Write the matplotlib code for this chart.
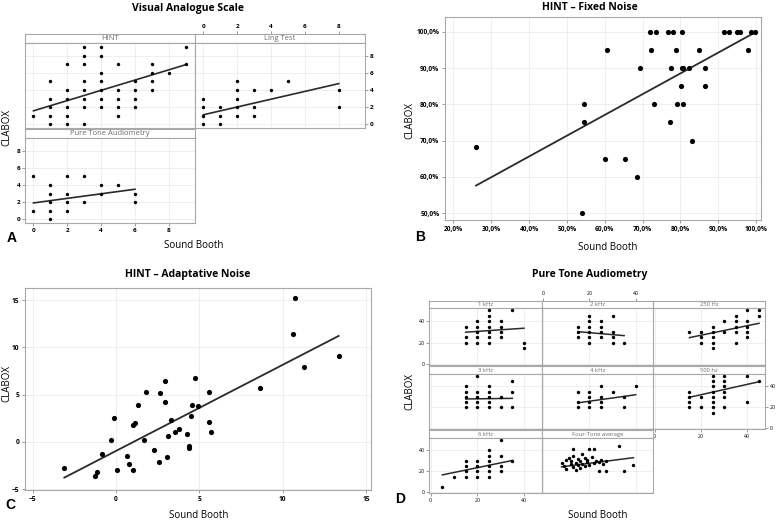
"""
plot.py
=======
Four panel comparison of CLABOX against the sound booth (A-D), drawn with
plain matplotlib axes placed in pixel coordinates.
"""
import numpy as np
import matplotlib
matplotlib.use("Agg")
import matplotlib.pyplot as plt
from matplotlib.ticker import FuncFormatter

W, H = 779, 520
plt.rcParams["font.family"] = ["Open Sans", "DejaVu Sans"]

FRAME = "#a8a8a8"
GRID = "#ececec"
STRIP_TXT = "#6e6e6e"
LINE = "#2a2a2a"

# ---- A: Visual Analogue Scale ------------------------------------------
A_HINT_X = [0, 1, 1, 1, 1, 1, 2, 2, 2, 2, 2, 2, 3, 3, 3, 3, 3, 3, 3, 3,
            4, 4, 4, 4, 4, 4, 4, 5, 5, 5, 5, 5, 6, 6, 6, 6, 7, 7, 7, 7, 8, 9, 9]
A_HINT_Y = [1, 5, 3, 2, 1, 0, 7, 4, 3, 2, 1, 0, 9, 8, 7, 5, 4, 3, 2, 0,
            9, 8, 6, 5, 4, 3, 2, 7, 4, 3, 2, 1, 5, 4, 3, 2, 7, 6, 5, 4, 6, 9, 7]
A_HINT_FIT = (1.56, 0.60)

A_LING_X = [0, 0, 0, 0, 1, 1, 1, 2, 2, 2, 2, 2, 3, 3, 3, 4, 5, 8, 8]
A_LING_Y = [3, 2, 1, 0, 2, 1, 0, 5, 4, 3, 2, 1, 4, 2, 1, 4, 5, 4, 2]
A_LING_FIT = (1.10, 0.456)

A_PTA_X = [0, 0, 1, 1, 1, 1, 1, 2, 2, 2, 2, 3, 3, 4, 4, 5, 6, 6]
A_PTA_Y = [5, 1, 4, 3, 2, 1, 0, 5, 3, 2, 1, 5, 2, 4, 3, 4, 3, 2]
A_PTA_FIT = (1.90, 0.267)

# ---- B: HINT fixed noise (percent) -------------------------------------
B_X = [26.0, 54.0, 54.6, 54.6, 60.7, 60.0, 65.4, 68.6, 69.4, 72.1, 72.3, 72.9,
       73.6, 76.7, 78.0, 80.3, 78.8, 77.5, 77.3, 79.1, 80.6, 80.1, 80.3, 80.7,
       82.4, 83.0, 84.8, 86.4, 86.6, 91.4, 92.8, 95.0, 95.8, 98.7, 99.8, 97.9]
B_Y = [68.3, 50, 80, 75, 95, 65, 65, 60, 90, 100, 95, 80,
       100, 100, 100, 100, 95, 90, 75, 80, 80, 85, 90, 90,
       90, 70, 95, 85, 90, 100, 100, 100, 100, 100, 100, 95]
B_FIT = (42.7, 0.573)

# ---- C: HINT adaptative noise ------------------------------------------
C_X = [-3.10, -1.26, -1.12, -0.84, -0.30, -0.14, 0.05, 0.67, 0.81, 1.03, 1.03,
       1.17, 1.33, 1.81, 1.71, 2.31, 2.61, 2.67, 2.97, 2.97, 3.07, 3.15, 3.33,
       3.57, 3.77, 4.27, 4.37, 4.37, 4.49, 4.57, 4.77, 4.95, 5.57, 5.59, 5.73,
       8.67, 10.60, 10.74, 11.26, 13.36]
C_Y = [-2.77, -3.59, -3.23, -1.29, 0.23, 2.49, -2.99, -1.50, -2.31, -3.02, 1.82,
       2.03, 3.90, 5.30, 0.23, -0.83, -2.17, 5.18, 6.41, 4.26, -1.57, 0.62, 2.31,
       1.08, 1.33, 0.87, -0.41, -0.69, 2.70, 3.87, 6.77, 3.76, 5.32, 2.10, 1.08,
       5.67, 11.40, 15.25, 7.93, 9.10]
C_FIT = (-0.96, 0.912)

# ---- D: Pure Tone Audiometry (dB) --------------------------------------
D_1K_X = [15, 15, 15, 20, 20, 20, 20, 20, 25, 25, 25, 25, 25, 25, 25, 30, 30, 30, 30, 35, 40, 40]
D_1K_Y = [35, 25, 20, 40, 35, 30, 25, 20, 50, 45, 40, 35, 30, 25, 20, 40, 35, 30, 25, 50, 20, 15]
D_1K_FIT = (27.6, 0.148)

D_2K_X = [15, 15, 15, 20, 20, 20, 20, 20, 20, 25, 25, 25, 25, 30, 30, 30, 30, 35]
D_2K_Y = [35, 30, 25, 45, 40, 35, 30, 25, 20, 40, 35, 30, 25, 45, 30, 25, 20, 20]
D_2K_FIT = (33.1, -0.185)

D_250_X = [15, 20, 20, 20, 25, 25, 25, 25, 25, 30, 30, 35, 35, 35, 35, 35, 40, 40, 40, 40, 40, 45, 45]
D_250_Y = [30, 30, 25, 20, 35, 30, 25, 20, 15, 40, 30, 45, 40, 35, 30, 20, 50, 40, 35, 30, 25, 50, 45]
D_250_FIT = (18.15, 0.443)

D_3K_X = [15, 15, 15, 15, 15, 20, 20, 20, 20, 20, 25, 25, 25, 25, 25, 30, 30, 35, 35, 35]
D_3K_Y = [40, 35, 30, 25, 20, 50, 35, 30, 25, 20, 40, 35, 30, 25, 20, 30, 20, 45, 35, 20]
D_3K_FIT = (27.45, 0.03)

D_4K_X = [15, 15, 15, 20, 20, 20, 20, 25, 25, 25, 25, 30, 35, 35, 40]
D_4K_Y = [35, 25, 20, 35, 30, 25, 20, 40, 30, 25, 20, 35, 30, 20, 40]
D_4K_FIT = (19.6, 0.308)

D_500_X = [15, 15, 15, 15, 20, 20, 25, 25, 25, 25, 25, 25, 25, 25, 30, 30, 30, 30, 30, 30, 40, 40, 45]
D_500_Y = [35, 30, 25, 20, 30, 20, 50, 45, 40, 35, 30, 25, 20, 15, 50, 45, 40, 35, 30, 20, 50, 25, 45]
D_500_FIT = (22.1, 0.493)

D_6K_X = [5, 10, 15, 15, 15, 15, 20, 20, 20, 20, 25, 25, 25, 25, 25, 25, 30, 30, 30, 30, 35]
D_6K_Y = [5, 15, 30, 25, 20, 15, 30, 25, 20, 15, 40, 35, 30, 25, 20, 15, 50, 35, 25, 20, 30]
D_6K_FIT = (14.3, 0.457)

D_4T_X = [8, 9, 10, 10, 11, 12, 12, 13, 13, 14, 14, 15, 15, 16, 16, 17, 17, 18,
          18, 19, 19, 20, 21, 22, 23, 24, 25, 26, 27, 13, 20, 22, 24, 33, 27, 35, 39]
D_4T_Y = [28, 25, 31, 22, 33, 27, 30, 24, 35, 21, 28, 32, 26, 23, 30, 36, 27, 25,
          33, 29, 31, 26, 34, 28, 30, 29, 31, 27, 30, 41, 41, 41, 20, 44, 20, 20, 26]
D_4T_FIT = (22.0, 0.28)


def add_ax(fig, x0, y0, x1, y1):
    """Axes from pixel box (top-left origin)."""
    return fig.add_axes([x0 / W, 1 - y1 / H, (x1 - x0) / W, (y1 - y0) / H])


def style_frame(ax, color=FRAME, lw=0.8):
    for sp in ax.spines.values():
        sp.set_color(color)
        sp.set_linewidth(lw)


def tick_style(ax, fs, pad=1.5):
    ax.tick_params(which="both", bottom=False, left=False, top=False, right=False,
                   labelbottom=False, labelleft=False, labeltop=False,
                   labelright=False, length=2, width=0.6, color="#8a8a8a",
                   labelsize=fs, pad=pad)


def facet(fig, box, strip_h, label, xs, ys, fit, xlim, ylim, xt, yt,
          s, lw, strip_fs, tick_fs):
    x0, y0, x1, y1 = box
    # strip on top, shares the x scale so top ticks can sit above it
    sax = add_ax(fig, x0, y0, x1, y0 + strip_h)
    sax.set_xlim(xlim)
    sax.set_xticks(xt)
    sax.set_yticks([])
    tick_style(sax, tick_fs)
    sax.text(0.5, 0.45, label, ha="center", va="center",
             fontsize=strip_fs, color=STRIP_TXT, transform=sax.transAxes)
    style_frame(sax)

    ax = add_ax(fig, x0, y0 + strip_h, x1, y1)
    ax.scatter(xs, ys, s=s, color="black", linewidths=0, zorder=3)
    xx = np.array([min(xs), max(xs)], dtype=float)
    ax.plot(xx, fit[0] + fit[1] * xx, color=LINE, lw=lw, zorder=2)
    ax.set_xlim(xlim)
    ax.set_ylim(ylim)
    ax.set_xticks(xt)
    ax.set_yticks(yt)
    ax.grid(True, color=GRID, lw=0.6)
    ax.set_axisbelow(True)
    tick_style(ax, tick_fs)
    style_frame(ax)
    return ax, sax


def single(fig, box, xs, ys, fit, xlim, ylim, xt, yt):
    ax = add_ax(fig, *box)
    ax.scatter(xs, ys, s=14, color="black", linewidths=0, zorder=3)
    xx = np.array([min(xs), max(xs)], dtype=float)
    ax.plot(xx, fit[0] + fit[1] * xx, color=LINE, lw=1.3, zorder=2)
    ax.set_xlim(xlim)
    ax.set_ylim(ylim)
    ax.set_xticks(xt)
    ax.set_yticks(yt)
    ax.grid(True, color=GRID, lw=0.6)
    ax.set_axisbelow(True)
    ax.tick_params(length=2, width=0.6, color="#8a8a8a", labelsize=4.8, pad=2)
    style_frame(ax)
    return ax


def fig_text(fig, x, y, s, **kw):
    fig.text(x / W, 1 - y / H, s, ha="center", va="center", **kw)


def bold_ticks(ax):
    for lab in ax.get_xticklabels() + ax.get_yticklabels():
        lab.set_fontweight("bold")


def main():
    fig = plt.figure(figsize=(W / 100, H / 100), dpi=100)

    # ---------------- A ----------------
    xl, yl = (-0.5, 9.55), (-0.45, 9.5)
    t8 = [0, 2, 4, 6, 8]
    kw = dict(s=6, lw=1.2, strip_fs=5.5, tick_fs=4.6)
    facet(fig, (25, 34, 195, 128), 9, "HINT", A_HINT_X, A_HINT_Y, A_HINT_FIT,
          xl, yl, t8, t8, **kw)
    ax, sax = facet(fig, (195, 34, 365, 128), 9, "Ling Test", A_LING_X,
                    A_LING_Y, A_LING_FIT, xl, yl, t8, t8, **kw)
    ax.tick_params(right=True, labelright=True)
    sax.tick_params(top=True, labeltop=True)
    bold_ticks(ax)
    bold_ticks(sax)
    ax, sax = facet(fig, (25, 129, 195, 223), 9, "Pure Tone Audiometry",
                    A_PTA_X, A_PTA_Y, A_PTA_FIT, xl, yl, t8, t8, **kw)
    ax.tick_params(bottom=True, labelbottom=True, left=True, labelleft=True)
    bold_ticks(ax)
    fig_text(fig, 188, 8, "Visual Analogue Scale", fontsize=7.5, fontweight="bold")
    fig_text(fig, 194, 246, "Sound Booth", fontsize=7)
    fig_text(fig, 7, 128, "CLABOX", fontsize=7, rotation=90)
    fig_text(fig, 12, 238, "A", fontsize=10, fontweight="bold",
             family="Liberation Sans")

    # ---------------- B ----------------
    ax = single(fig, (445, 17, 761, 220), B_X, B_Y, B_FIT, (17.8, 101.3),
                (48.1, 104.1), np.arange(20, 101, 10), np.arange(50, 101, 10))
    pct = FuncFormatter(lambda v, p: f"{v:.1f}%".replace(".", ","))
    ax.xaxis.set_major_formatter(pct)
    ax.yaxis.set_major_formatter(pct)
    bold_ticks(ax)
    fig_text(fig, 590, 8, "HINT \u2013 Fixed Noise", fontsize=7.5, fontweight="bold")
    fig_text(fig, 608, 247, "Sound Booth", fontsize=7)
    fig_text(fig, 410, 120, "CLABOX", fontsize=7, rotation=90)
    fig_text(fig, 420, 237, "B", fontsize=10, fontweight="bold",
             family="Liberation Sans")

    # ---------------- C ----------------
    ax = single(fig, (25, 288, 371, 490), C_X, C_Y, C_FIT, (-5.46, 15.3),
                (-5.1, 16.3), [-5, 0, 5, 10, 15], [-5, 0, 5, 10, 15])
    bold_ticks(ax)
    fig_text(fig, 188, 275, "HINT \u2013 Adaptative Noise", fontsize=7.5,
             fontweight="bold")
    fig_text(fig, 199, 515, "Sound Booth", fontsize=7)
    fig_text(fig, 7, 383, "CLABOX", fontsize=7, rotation=90)
    fig_text(fig, 10, 505, "C", fontsize=10, fontweight="bold",
             family="Liberation Sans")

    # ---------------- D ----------------
    cols = [429.3, 541.7, 653.3, 765]
    rows = [(300.7, 365.3), (366, 429.3), (430, 493.3)]
    xl, yl = (-0.6, 47.6), (-0.9, 52.1)
    t40 = [0, 20, 40]
    kw = dict(s=6, lw=1.1, strip_fs=4.2, tick_fs=3.8)
    panels = [
        ("1 kHz", D_1K_X, D_1K_Y, D_1K_FIT, 0, 0),
        ("2 kHz", D_2K_X, D_2K_Y, D_2K_FIT, 1, 0),
        ("250 Hz", D_250_X, D_250_Y, D_250_FIT, 2, 0),
        ("3 kHz", D_3K_X, D_3K_Y, D_3K_FIT, 0, 1),
        ("4 kHz", D_4K_X, D_4K_Y, D_4K_FIT, 1, 1),
        ("500 hz", D_500_X, D_500_Y, D_500_FIT, 2, 1),
        ("6 kHz", D_6K_X, D_6K_Y, D_6K_FIT, 0, 2),
        ("Four-Tone average", D_4T_X, D_4T_Y, D_4T_FIT, 1, 2),
    ]
    for label, xs, ys, fit, c, r in panels:
        ax, sax = facet(fig, (cols[c], rows[r][0], cols[c + 1], rows[r][1]),
                        7.5, label, xs, ys, fit, xl, yl, t40, t40, **kw)
        if c == 0 and r in (0, 2):
            ax.tick_params(left=True, labelleft=True)
        if c == 0 and r == 2:
            ax.tick_params(bottom=True, labelbottom=True)
        if c == 1 and r == 0:
            sax.tick_params(top=True, labeltop=True)
        if c == 2 and r == 1:
            ax.tick_params(right=True, labelright=True, bottom=True,
                           labelbottom=True)
    fig_text(fig, 590, 275, "Pure Tone Audiometry", fontsize=7.5, fontweight="bold")
    fig_text(fig, 598, 515, "Sound Booth", fontsize=7)
    fig_text(fig, 410, 392, "CLABOX", fontsize=7, rotation=90)
    fig_text(fig, 400, 499, "D", fontsize=10, fontweight="bold",
             family="Liberation Sans")

    fig.savefig("out.png", dpi=100)


if __name__ == "__main__":
    main()
